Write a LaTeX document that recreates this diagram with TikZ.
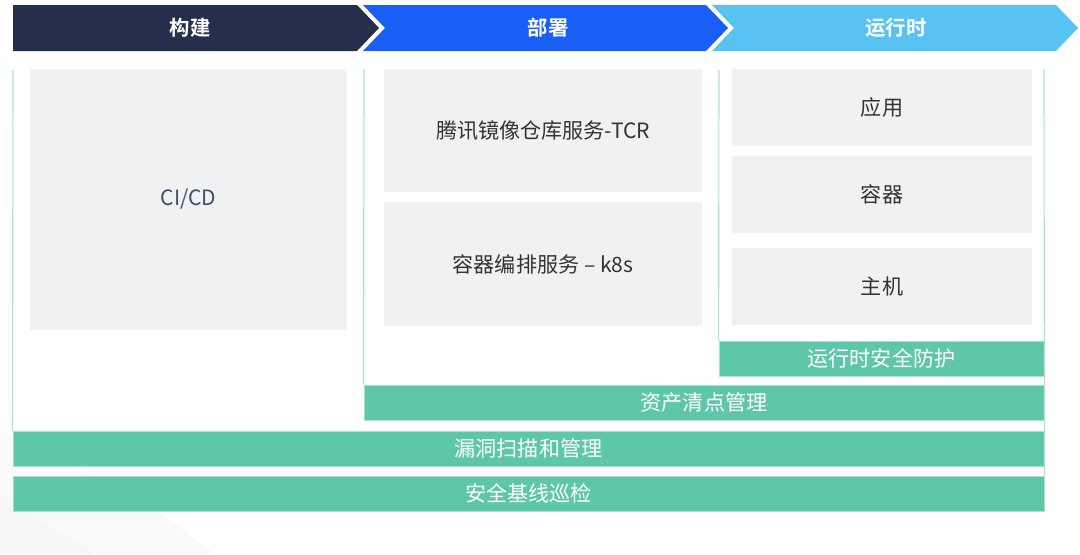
\documentclass[tikz,border=0pt]{standalone}
\usepackage{fontspec}
\setmainfont{Noto Sans CJK SC}[BoldFont={Noto Sans CJK SC Bold}]
\usepackage{tikz}

\definecolor{navy}{HTML}{252E4A}
\definecolor{deploy_blue}{HTML}{1A5FF5}
\definecolor{run_blue}{HTML}{58C3F3}
\definecolor{sec_green}{HTML}{5FC7A9}
\definecolor{frame_green}{HTML}{A9E3CF}
\definecolor{cell_gray}{HTML}{F0F1F3}
\definecolor{txt_gray}{HTML}{333333}

\tikzset{
  stage/.style={text=white, font=\fontsize{14.5}{17}\selectfont\bfseries},
  cell/.style={fill=cell_gray, text=txt_gray, font=\fontsize{15}{18}\selectfont, inner sep=0pt},
  bar/.style={fill=sec_green, draw=frame_green, line width=0.5pt, text=white,
    font=\fontsize{15}{18}\selectfont, inner sep=0pt, minimum height=0.875cm},
  frame/.style={draw=frame_green, line width=0.8pt}
}

\begin{document}
\begin{tikzpicture}[x=0.025cm, y=-0.025cm]
\useasboundingbox (0,0) rectangle (1080,554);

%% faint background corner
\fill[fill=gray!4] (0,430) -- (150,505) -- (215,554) -- (0,554) -- cycle;
\fill[fill=gray!6] (0,495) -- (95,554) -- (0,554) -- cycle;

%% STAGE ARROWS
\fill[navy] (13,5) -- (357,5) -- (379,28) -- (357,51) -- (13,51) -- cycle;
\fill[deploy_blue] (363,5) -- (706,5) -- (728,28) -- (706,51) -- (363,51) -- (385,28) -- cycle;
\fill[run_blue] (712,5) -- (1056,5) -- (1078,28) -- (1056,51) -- (712,51) -- (734,28) -- cycle;

\node[stage] (stage_build) at (190,28) {构建};
\node[stage] (stage_deploy) at (548,28) {部署};
\node[stage] (stage_run) at (896,28) {运行时};

%% BUILD
\node[cell, text=navy!85, minimum width=7.925cm, minimum height=6.525cm] (cicd) at (188.5,199.5) {CI/CD};

%% DEPLOY
\node[cell, minimum width=7.95cm, minimum height=3.075cm] (tcr) at (543,130.5) {腾讯镜像仓库服务-TCR};
\node[cell, minimum width=7.95cm, minimum height=3.1cm] (k8s) at (543,264) {容器编排服务 -- k8s};

%% RUNTIME
\node[cell, minimum width=7.5cm, minimum height=1.925cm] (app) at (882,107.5) {应用};
\node[cell, minimum width=7.5cm, minimum height=1.925cm] (container) at (882,194.5) {容器};
\node[cell, minimum width=7.5cm, minimum height=1.925cm] (host) at (882,286.5) {主机};

%% SECURITY BARS
\node[bar, minimum width=8.125cm] (rt_protect) at (881.5,358.5) {运行时安全防护};
\node[bar, minimum width=17cm] (asset_inv) at (704,402.5) {资产清点管理};
\node[bar, minimum width=25.775cm] (vuln_scan) at (528.5,448.5) {漏洞扫描和管理};
\node[bar, minimum width=25.775cm] (baseline) at (528.5,493.5) {安全基线巡检};

%% frame lines
\draw[frame] (13,70) -- (vuln_scan.north west);
\draw[frame] (364,70) -- (asset_inv.north west);
\draw[frame] (719,70) -- (rt_protect.north west);
\draw[frame] (1044,70) -- (baseline.north east);

\end{tikzpicture}
\end{document}
